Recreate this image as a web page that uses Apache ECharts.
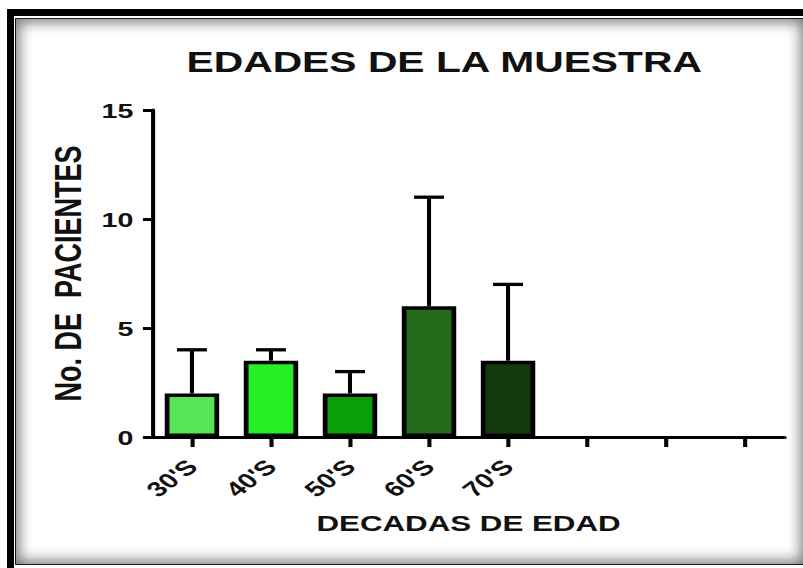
<!DOCTYPE html>
<html>
<head>
<meta charset="utf-8">
<script src="https://cdn.jsdelivr.net/npm/echarts@6/dist/echarts.min.js"></script>
<style>
  html, body { margin: 0; padding: 0; background: #fff; overflow: hidden; }
  body { width: 803px; height: 568px; position: relative; }
  /* black outer frame and inner panel with inset shade */
  #frame {
    position: absolute; left: 7px; top: 9px; width: 820px; height: 590px;
    border-left: 7px solid #000; border-top: 7px solid #000; box-sizing: border-box;
  }
  #panel {
    position: absolute; left: 15px; top: 18px; width: 790px; height: 547px;
    border: 1.5px solid #1a1a1a; box-sizing: border-box; background: #fff;
    box-shadow: inset 0 0 14px 3px rgba(0,0,0,0.55);
  }
  /* the chart is laid out narrow and widened horizontally */
  #chart {
    position: absolute; left: 0; top: 0; width: 590px; height: 568px;
    transform: scaleX(1.3610); transform-origin: 0 0;
  }
</style>
</head>
<body>
<div id="frame"></div>
<div id="panel"></div>
<div id="chart"></div>
<script>
// Age decades of the sample
const categories = ["30'S", "40'S", "50'S", "60'S", "70'S", "", "", ""];
const patients   = [2, 3.5, 2, 6, 3.5];
const upperError = [4, 4, 3, 11, 7];
const barColors  = ['#55e655', '#25ee25', '#0a9f0a', '#236a1b', '#14390c'];
const yTicks     = [0, 5, 10, 15];

const font = 'Liberation Sans, Arial, Helvetica, sans-serif';

const chart = echarts.init(document.getElementById('chart'), null, { renderer: 'svg' });

const barData = patients.map((v, i) => ({
  value: v,
  itemStyle: { color: barColors[i] }
}));
const errData = patients.map((v, i) => [i, v, upperError[i]]);

chart.setOption({
  animation: false,
  backgroundColor: 'transparent',
  title: {
    text: 'EDADES DE LA MUESTRA',
    left: 137,
    top: 47,
    padding: 0,
    textStyle: { fontFamily: font, fontSize: 30, fontWeight: 'bold', color: '#111' }
  },
  grid: { left: 112, right: 13.5, top: 110, bottom: 131 },
  xAxis: {
    type: 'category',
    data: categories,
    name: 'DECADAS DE EDAD',
    nameLocation: 'middle',
    nameGap: 75,
    nameTextStyle: { fontFamily: font, fontSize: 23, fontWeight: 'bold', color: '#111' },
    axisLine: { show: true, lineStyle: { color: '#000', width: 3 } },
    axisTick: { show: true, alignWithLabel: true, interval: 0, length: 10, lineStyle: { color: '#000', width: 3 } },
    axisLabel: {
      interval: 0, rotate: 45, margin: 26,
      fontFamily: font, fontSize: 21, fontWeight: 'bold', color: '#111'
    }
  },
  yAxis: {
    type: 'value',
    min: yTicks[0],
    max: yTicks[yTicks.length - 1],
    interval: yTicks[1] - yTicks[0],
    name: 'No. DE  PACIENTES',
    nameLocation: 'middle',
    nameRotate: 90,
    nameGap: 47,
    nameTextStyle: { fontFamily: font, fontSize: 27, fontWeight: 'bold', color: '#111' },
    axisLine: { show: true, lineStyle: { color: '#000', width: 3 } },
    axisTick: { show: true, length: 7, lineStyle: { color: '#000', width: 3 } },
    axisLabel: { margin: 14, fontFamily: font, fontSize: 21, fontWeight: 'bold', color: '#111' },
    splitLine: { show: false }
  },
  series: [
    {
      type: 'bar',
      data: barData,
      barWidth: 40,
      itemStyle: { borderColor: '#000', borderWidth: 3.5 },
      z: 2
    },
    {
      // upper error bars with caps
      type: 'custom',
      data: errData,
      z: 3,
      renderItem: function (params, api) {
        const i = api.value(0);
        const base = api.coord([i, api.value(1)]);
        const top = api.coord([i, api.value(2)]);
        const half = 11;
        return {
          type: 'group',
          children: [
            {
              type: 'line',
              shape: { x1: top[0], y1: base[1], x2: top[0], y2: top[1] },
              style: { stroke: '#000', lineWidth: 3 }
            },
            {
              type: 'line',
              shape: { x1: top[0] - half, y1: top[1], x2: top[0] + half, y2: top[1] },
              style: { stroke: '#000', lineWidth: 3.3 }
            }
          ]
        };
      }
    }
  ]
});
</script>
</body>
</html>
